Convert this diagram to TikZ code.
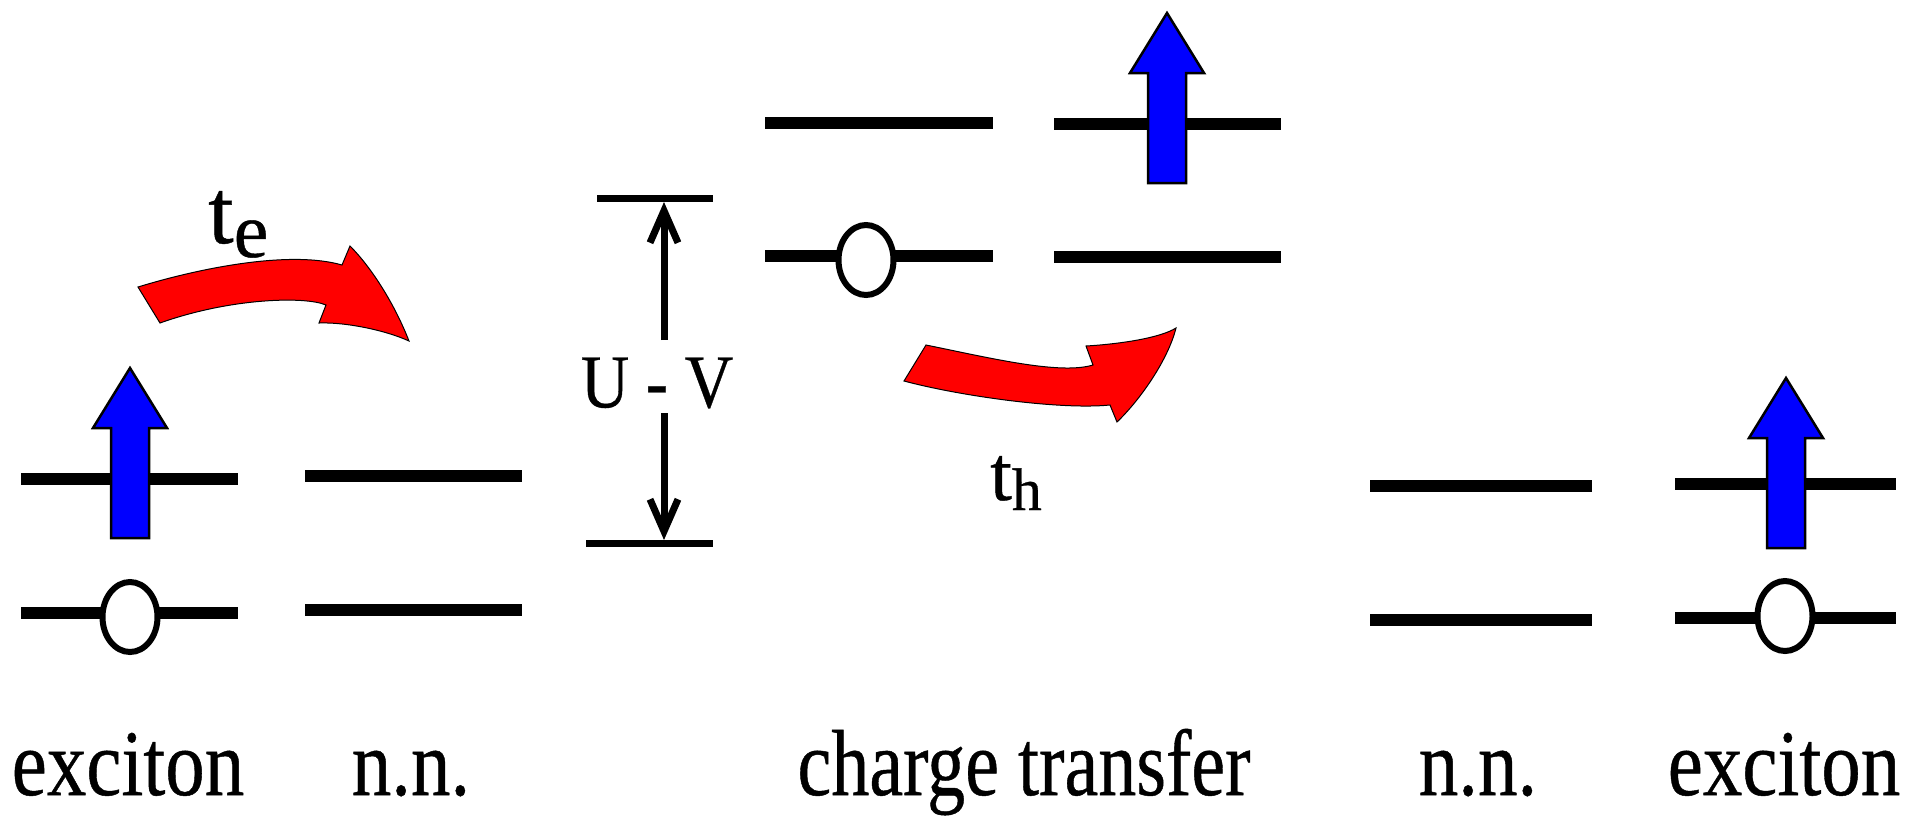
\documentclass[tikz,border=0pt]{standalone}
\usepackage{fontspec}
\setmainfont{Liberation Serif}
\newfontfamily\timesx{Liberation Serif}[FakeBold=0.5]
\usepackage{graphicx}
\usetikzlibrary{arrows.meta}
\begin{document}
\begin{tikzpicture}[x=1pt,y=-1pt,
  level/.style={line width=12.5pt},
  hole/.style={draw=black,line width=6pt,fill=white},
  spinarrow/.style={draw=black,line width=2.5pt,fill=blue,line join=miter},
  hop/.style={draw=black,line width=1pt,fill=red},
  lab/.style={inner sep=0pt,anchor=base,font=\timesx\fontsize{94}{100}\selectfont},
  gapline/.style={line width=7pt},
  gaparrow/.style={line width=7pt,-{Straight Barb[length=32pt,width=28pt]}},
  spin/.pic={\path[spinarrow] (0,0) -- (37,60) -- (19,60) -- (19,170) -- (-19,170) -- (-19,60) -- (-37,60) -- cycle;}]
\useasboundingbox (0,0) rectangle (1906,815);
% energy levels
\draw[level] (21,479) -- (238,479);
\draw[level] (21,613) -- (238,613);
\draw[level] (305,476) -- (522,476);
\draw[level] (305,610) -- (522,610);
\draw[level] (765,123) -- (993,123);
\draw[level] (765,256) -- (993,256);
\draw[level] (1054,124) -- (1281,124);
\draw[level] (1054,257) -- (1281,257);
\draw[level] (1370,486) -- (1592,486);
\draw[level] (1370,620) -- (1592,620);
\draw[level] (1675,484) -- (1896,484);
\draw[level] (1675,618) -- (1896,618);
% holes
\draw[hole] (130,617) ellipse [x radius=27.5pt, y radius=35pt];
\draw[hole] (866,260) ellipse [x radius=27.5pt, y radius=35pt];
\draw[hole] (1785,616) ellipse [x radius=27.5pt, y radius=35pt];
% spins
\pic at (130,368) {spin};
\pic at (1167,13) {spin};
\pic at (1786,378) {spin};
% hopping arrows
\path[hop] (138,287) .. controls (200,268) and (290,250) .. (342,265) -- (350,246)
  .. controls (372,268) and (395,305) .. (409,341)
  .. controls (385,330) and (345,322) .. (319,323) -- (326,305)
  .. controls (305,296) and (230,298) .. (160,323) -- cycle;
\path[hop] (926,345) .. controls (990,358) and (1060,375) .. (1093,365) -- (1086,346)
  .. controls (1120,344) and (1160,338) .. (1176,328)
  .. controls (1168,360) and (1140,400) .. (1117,422) -- (1110,405)
  .. controls (1060,410) and (960,396) .. (904,381) -- cycle;
% hopping labels
\node[inner sep=0pt,anchor=base west] (te) at (208,243)
  {\timesx\fontsize{92}{96}\selectfont t\raisebox{-14pt}{\fontsize{78}{82}\selectfont e}};
\node[inner sep=0pt,anchor=base west] (th) at (990,500)
  {\timesx\fontsize{78}{82}\selectfont t\raisebox{-10pt}{\fontsize{60}{64}\selectfont h}};
% U - V gap
\draw[gapline] (597,198) -- (713,198);
\draw[gapline] (586,543) -- (713,543);
\node[inner sep=0pt,font=\timesx\fontsize{76}{80}\selectfont] (uv) at (657,383) {\scalebox{0.88}[1]{U - V}};
\coordinate (uvA) at (664,340);
\coordinate (uvAend) at (664,202);
\coordinate (uvB) at (664,413);
\coordinate (uvBend) at (664,540);
\draw[gaparrow] (uvA) -- (uvAend);
\draw[gaparrow] (uvB) -- (uvBend);
% bottom labels
\node[lab] (l1) at (128,795) {\scalebox{0.84}[1]{exciton}};
\node[lab] (l2) at (411,795) {\scalebox{0.84}[1]{n.n.}};
\node[lab] (l3) at (1024,795) {\scalebox{0.81}[1]{charge transfer}};
\node[lab] (l4) at (1478,795) {\scalebox{0.84}[1]{n.n.}};
\node[lab] (l5) at (1784,795) {\scalebox{0.84}[1]{exciton}};
\end{tikzpicture}
\end{document}
